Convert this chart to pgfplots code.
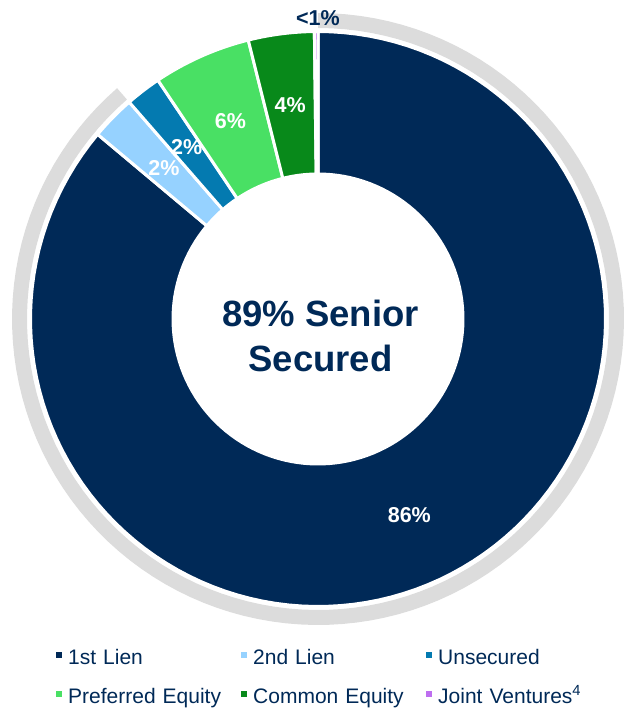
\documentclass[border=0pt]{standalone}
\usepackage{pgfplots}
\pgfplotsset{compat=1.18}
\usepackage{pgfplotstable}
\usepgfplotslibrary{polar}
\usepackage{fontspec}
\setmainfont{Liberation Sans}
\definecolor{navy}{RGB}{0,41,87}
\definecolor{lightblue}{RGB}{150,210,255}
\definecolor{unsec}{RGB}{4,122,176}
\definecolor{prefeq}{RGB}{73,224,100}
\definecolor{commeq}{RGB}{8,137,26}
\definecolor{jv}{RGB}{190,110,240}
\definecolor{ring}{RGB}{220,220,220}

\pgfplotstableread{
name value
first 86.1
second 2.5
unsec 2.0
pref 5.5
common 3.7
jv 0.2
}\sharestable

\newcommand\getshare[2]{\pgfplotstablegetelem{#1}{value}\of\sharestable\pgfmathsetmacro#2{\pgfplotsretval}}
% wedge: color, start angle, end angle, outer radius, inner radius, stroke
\newcommand\donutwedge[6]{%
  \addplot[forget plot, data cs=polar, fill=#1, #6, domain=0:3, samples=361]
    ({x<1 ? #2+(#3-#2)*x : (x<2 ? #3 : #3-(#3-#2)*(x-2))},
     {x<1 ? #4 : (x<2 ? #4-(#4-#5)*(x-1) : #5)}) -- cycle;
}

\begin{document}
\begin{tikzpicture}
\getshare{0}\vA\getshare{1}\vB\getshare{2}\vC\getshare{3}\vD\getshare{4}\vE\getshare{5}\vF
\pgfmathsetmacro\aA{90-3.6*\vA}
\pgfmathsetmacro\aB{\aA-3.6*\vB}
\pgfmathsetmacro\aC{\aB-3.6*\vC}
\pgfmathsetmacro\aD{\aC-3.6*\vD}
\pgfmathsetmacro\aE{\aD-3.6*\vE}
\pgfmathsetmacro\aF{\aE-3.6*\vF}
\pgfmathsetmacro\mA{(90+\aA)/2}
\pgfmathsetmacro\mB{(\aA+\aB)/2}
\pgfmathsetmacro\mC{(\aB+\aC)/2}
\pgfmathsetmacro\mD{(\aC+\aD)/2}
\pgfmathsetmacro\mE{(\aD+\aE)/2}
\begin{axis}[
  x=1pt, y=1pt,
  xmin=-318, xmax=309, ymin=-390, ymax=319,
  hide axis, clip=false, enlargelimits=false,
  legend columns=3,
  legend cell align=left,
  legend image code/.code={\path[draw=none,#1] (0pt,2pt) rectangle (6pt,8pt);},
  legend style={draw=none, fill=none, at={(axis cs:-262,-332)}, anchor=north west,
    font=\fontsize{21}{25}\selectfont, text=navy,
    nodes={text width=170pt, text height=13pt, text depth=5pt, inner ysep=0pt, inner xsep=3pt},
    /tikz/every odd column/.append style={column sep=3pt},
    /tikz/every even column/.append style={column sep=0pt},
    row sep=21pt, inner sep=0pt},
]
% grey ring marking senior secured share
\donutwedge{ring}{\aB}{90}{306}{291}{draw=none}
% donut wedges
\donutwedge{navy}{\aA}{90}{287.5}{145}{draw=white, line width=3pt}
\donutwedge{lightblue}{\aB}{\aA}{287.5}{145}{draw=white, line width=3pt}
\donutwedge{unsec}{\aC}{\aB}{287.5}{145}{draw=white, line width=3pt}
\donutwedge{prefeq}{\aD}{\aC}{287.5}{145}{draw=white, line width=3pt}
\donutwedge{commeq}{\aE}{\aD}{287.5}{145}{draw=white, line width=3pt}
\donutwedge{jv}{\aF}{\aE}{287.5}{145}{draw=white, line width=3pt}
% labels
\addplot[forget plot, draw=none, no markers, data cs=polar, point meta=explicit symbolic,
  nodes near coords, nodes near coords style={anchor=center, text=white, font=\bfseries\fontsize{21.5}{24}\selectfont}]
  coordinates {(\mA,216) [86\%] (\mB,216) [2\%] (\mC,216) [2\%] (\mD,216) [6\%] (\mE,216) [4\%]};
\addplot[forget plot, draw=none, no markers, point meta=explicit symbolic,
  nodes near coords, nodes near coords style={anchor=center, text=navy, font=\bfseries\fontsize{21.5}{24}\selectfont}]
  coordinates {(0,301) [<1\%]};
\node[align=center, text=navy, font=\bfseries\fontsize{36.5}{45}\selectfont] at (axis cs:2.5,-17) {89\% Senior\\Secured};
% legend
\addlegendimage{fill=navy}\addlegendentry{1st Lien}
\addlegendimage{fill=lightblue}\addlegendentry{2nd Lien}
\addlegendimage{fill=unsec}\addlegendentry{Unsecured}
\addlegendimage{fill=prefeq}\addlegendentry{Preferred Equity}
\addlegendimage{fill=commeq}\addlegendentry{Common Equity}
\addlegendimage{fill=jv}\addlegendentry{Joint Ventures\textsuperscript{4}}
\end{axis}
\pgfresetboundingbox
\path (current axis.south west) rectangle (current axis.north east);
\end{tikzpicture}
\end{document}
